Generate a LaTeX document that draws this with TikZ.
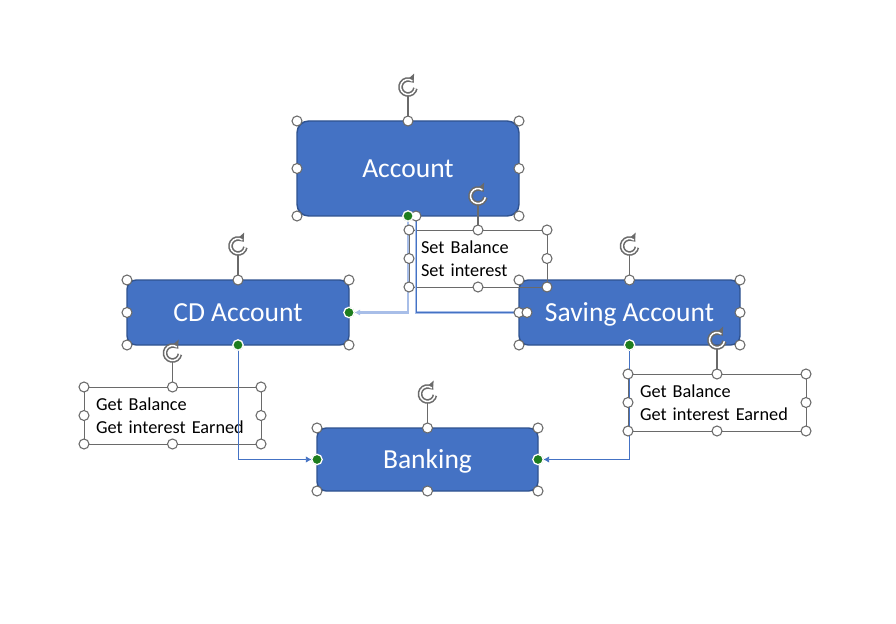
\documentclass[tikz,border=0pt]{standalone}
\usepackage{fontspec}
\setmainfont{Carlito}
\usetikzlibrary{positioning}
\usetikzlibrary{arrows.meta}
\definecolor{box-blue}{HTML}{4472C4}
\definecolor{box-edge}{HTML}{2F528F}
\definecolor{handle-gray}{HTML}{6A6A6A}
\definecolor{anchor-green}{HTML}{1E7D1E}
\definecolor{link-light}{HTML}{A8BEE8}
\tikzset{
  class-box/.style 2 args={
    draw=box-edge,
    fill=box-blue,
    line width=1.2pt,
    rounded corners=#2,
    text=white,
    font=\fontsize{23.5}{28}\selectfont,
    text height=15.1pt,
    text depth=0pt,
    inner sep=0pt,
    outer sep=0pt,
    minimum height=#1},
  note-box/.style={
    draw=handle-gray,
    line width=0.8pt,
    align=left,
    font=\fontsize{15.6}{19.6}\selectfont,
    inner xsep=0.36cm,
    inner ysep=0pt,
    outer sep=0pt},
  handle/.style={circle, draw=handle-gray, fill=white, line width=0.9pt, minimum size=0.3cm, inner sep=0pt},
  anchor-dot/.style={circle, draw=white, fill=anchor-green, line width=1.1pt, minimum size=0.31cm, inner sep=0pt},
  link/.style={draw=box-blue, line width=0.8pt},
  link-wide/.style={draw=link-light, line width=2.4pt},
  link-tip/.style={-{Latex[length=5pt,width=5.5pt]}, shorten >=0.16cm},
  rot handle/.pic={
    \draw[handle-gray, line width=0.9pt] (0,0) -- (0,-25);
    \draw[handle-gray, line width=4pt, -{Triangle[length=5pt,width=10pt]}]
      (0,-34) ++(10:7.5) arc[start angle=10, end angle=318, radius=7.5];
    \draw[white, line width=1.3pt]
      (0,-34) ++(10:7.5) arc[start angle=10, end angle=306, radius=7.5];
  },
}

\begin{document}
\begin{tikzpicture}[x=0.03cm, y=-0.03cm]
  \pgfmathsetmacro{\px}{0.03}
  \fill[white] (0,0) rectangle (896,624);
  \useasboundingbox (0,0) rectangle (896,624);

  % classes
  \node[class-box={95*\px*1cm}{10pt}, minimum width=222*\px*1cm] (acc) at (408,168.5) {Account};
  \node[class-box={65*\px*1cm}{8pt}, minimum width=222*\px*1cm] (cd) at (238,312.5) {CD Account};
  \node[class-box={65*\px*1cm}{8pt}, minimum width=221*\px*1cm] (sav) at (629.5,312.5) {Saving Account};
  \node[class-box={63*\px*1cm}{8pt}, minimum width=221*\px*1cm] (bank) at (427.5,459.5) {Banking};

  % methods
  \node[note-box, text width=114*\px*1cm, minimum height=57*\px*1cm] (acc-note) at (478,258.5) {Set Balance\\Set interest};
  \node[note-box, text width=153*\px*1cm, minimum height=57*\px*1cm] (cd-note) at (172.5,415.5) {Get Balance\\Get interest Earned};
  \node[note-box, text width=154*\px*1cm, minimum height=57*\px*1cm] (sav-note) at (717,402.5) {Get Balance\\Get interest Earned};

  % connectors
  \coordinate (acc-tap) at ([xshift=8*\px*1cm]acc.south);
  \coordinate (sav-tap) at ([xshift=8*\px*1cm]sav.west);
  \draw[link-wide, link-tip] (acc.south) |- (cd.east);
  \draw[link-wide] (acc-tap) |- (sav.west);
  \draw[link] (acc-tap) |- (sav.west);
  \draw[link, link-tip] (cd.south) |- (bank.west);
  \draw[link, link-tip] (sav.south) |- (bank.east);

  % selection handles
  \foreach \n in {acc,cd,sav,bank,acc-note,cd-note,sav-note} {
    \pic (\n-rot) at (\n.north) {rot handle};
    \foreach \a in {north west,north,north east,east,south east,south,south west,west}
      \node[handle] (\n-\a) at (\n.\a) {};
  }
  \node[handle] (acc-tap-h) at (acc-tap) {};
  \node[handle] (sav-tap-h) at (sav-tap) {};
  \foreach \p in {acc.south,cd.east,cd.south,sav.south,bank.west,bank.east}
    \node[anchor-dot] at (\p) {};
\end{tikzpicture}
\end{document}
